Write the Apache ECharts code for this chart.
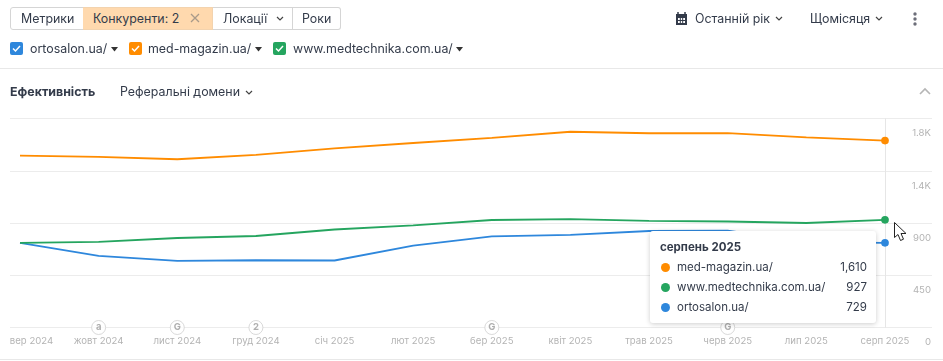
<!DOCTYPE html>
<html>
<head>
<meta charset="utf-8">
<script src="https://cdn.jsdelivr.net/npm/echarts@6/dist/echarts.min.js"></script>
<style>
html,body{margin:0;padding:0;background:#fff;overflow:hidden;font-family:Inter,"Noto Sans",sans-serif;color:#333b4a;}
#page{position:relative;width:943px;height:361px;}
#chart{position:absolute;left:0;top:0;width:943px;height:361px;}
.t{position:absolute;white-space:nowrap;font-size:12.4px;line-height:16px;}
.btn{position:absolute;top:7px;height:21px;border:1px solid #d5d5d5;border-left:none;font-size:12.4px;line-height:21px;box-sizing:content-box;text-align:left;}
.cb{position:absolute;top:42px;width:13px;height:13px;border-radius:2px;}
.cb svg{position:absolute;left:0;top:0;}
.hr{position:absolute;left:0;width:943px;height:1px;background:#e8e8e8;}
svg{position:absolute;overflow:visible;}
</style>
</head>
<body>
<div id="page">
  <div id="chart"></div>

  <div class="btn" style="left:10px;width:72px;border-left:1px solid #d5d5d5;border-radius:3px 0 0 3px;"><span style="margin-left:10px">Метрики</span></div>
  <div class="btn" style="left:83px;width:129px;background:#ffd9ae;border-color:#f3d3ae;"><span style="margin-left:10px">Конкуренти: 2</span></div>
  <svg style="left:190px;top:13px" width="10" height="10"><path d="M1 1L9 9M9 1L1 9" stroke="#a89a8a" stroke-width="1.3"/></svg>
  <div class="btn" style="left:213px;width:79px;"><span style="margin-left:10px">Локації</span></div>
  <svg style="left:276px;top:16px" width="8" height="5"><path d="M1 1L4 4L7 1" stroke="#444" stroke-width="1.2" fill="none"/></svg>
  <div class="btn" style="left:293px;width:47px;border-radius:0 3px 3px 0;"><span style="margin-left:9px">Роки</span></div>

  <div class="cb" style="left:10px;background:#2e87dc"><svg width="13" height="13"><path d="M3 6.5L5.5 9L10 4" stroke="#fff" stroke-width="1.5" fill="none"/></svg></div>
  <div class="t" style="left:30px;top:41px">ortosalon.ua/</div>
  <svg style="left:111px;top:47px" width="8" height="5"><path d="M0 0H7L3.5 4.5Z" fill="#333"/></svg>
  <div class="cb" style="left:129px;background:#ff8c00"><svg width="13" height="13"><path d="M3 6.5L5.5 9L10 4" stroke="#fff" stroke-width="1.5" fill="none"/></svg></div>
  <div class="t" style="left:148px;top:41px">med-magazin.ua/</div>
  <svg style="left:255px;top:47px" width="8" height="5"><path d="M0 0H7L3.5 4.5Z" fill="#333"/></svg>
  <div class="cb" style="left:273px;background:#25a55f"><svg width="13" height="13"><path d="M3 6.5L5.5 9L10 4" stroke="#fff" stroke-width="1.5" fill="none"/></svg></div>
  <div class="t" style="left:293px;top:41px">www.medtechnika.com.ua/</div>
  <svg style="left:456px;top:47px" width="8" height="5"><path d="M0 0H7L3.5 4.5Z" fill="#333"/></svg>

  <svg style="left:675px;top:12px" width="13" height="13"><path d="M1 2H12V13H1Z" fill="#333b4a"/><path d="M3 0V3M10 0V3" stroke="#333b4a" stroke-width="1.5"/><path d="M3 6H10V11H3Z" fill="#fff"/><path d="M3 8.5H10M5.3 6V11M7.7 6V11" stroke="#333b4a" stroke-width="1"/></svg>
  <div class="t" style="left:695px;top:11px">Останній рік</div>
  <svg style="left:775px;top:16px" width="8" height="5"><path d="M1 1L4 4L7 1" stroke="#444" stroke-width="1.2" fill="none"/></svg>
  <div class="t" style="left:810px;top:11px">Щомісяця</div>
  <svg style="left:875px;top:16px" width="8" height="5"><path d="M1 1L4 4L7 1" stroke="#444" stroke-width="1.2" fill="none"/></svg>
  <svg style="left:913px;top:12px" width="4" height="14"><circle cx="2" cy="2" r="1.7" fill="#6c6e79"/><circle cx="2" cy="7" r="1.7" fill="#6c6e79"/><circle cx="2" cy="12" r="1.7" fill="#6c6e79"/></svg>

  <div class="hr" style="top:68px"></div>
  <div class="t" style="left:10px;top:84px;font-weight:700;">Ефективність</div>
  <div class="t" style="left:120px;top:84px">Реферальні домени</div>
  <svg style="left:245px;top:90px" width="8" height="5"><path d="M1 1L4 4L7 1" stroke="#444" stroke-width="1.2" fill="none"/></svg>
  <svg style="left:919px;top:87px" width="12" height="8"><path d="M1 7L6 2L11 7" stroke="#b5b5b5" stroke-width="1.6" fill="none"/></svg>
  <div class="hr" style="top:359px"></div>

  <svg style="left:894px;top:222px;z-index:10000" width="14" height="20"><path d="M0.5 0.5V15.5L4 12.5L6.5 18.5L9.5 17.2L7 11.5H12Z" fill="#fff" stroke="#222" stroke-width="1"/></svg>
</div>

<script>
// 月份
var months = ['вер 2024','жовт 2024','лист 2024','груд 2024','січ 2025','лют 2025','бер 2025','квіт 2025','трав 2025','черв 2025','лип 2025','серп 2025'];
var tooltipTitle = 'серпень 2025';

// 三个网站的数据
var medMagazin = [1481,1469,1449,1486,1542,1589,1634,1686,1673,1674,1637,1610];
var medtechnika = [728,738,771,788,844,879,926,934,919,913,900,927];
var ortosalon = [728,616,573,579,577,706,784,797,831,835,735,729];

// y轴
var yTicks = [0,450,900,1350,1800];
var yTickLabels = ['0','450','900','1.4K','1.8K'];

// 底部的小圆圈标记
var noteIndexes = [1,2,3,6,9];
var noteLabels = ['a','G','2','G','G'];

var orange = '#ff8c00', green = '#25a55f', blue = '#2e87dc';
var lastIndex = months.length - 1;

function lineSeries(name, values, color) {
    return {
        name: name,
        type: 'line',
        xAxisIndex: 0,
        yAxisIndex: 0,
        data: values,
        smooth: false,
        showSymbol: true,
        showAllSymbol: true,
        symbol: 'circle',
        symbolSize: function (v, p) { return p.dataIndex === lastIndex ? 7 : 0; },
        lineStyle: {color: color, width: 1.8},
        itemStyle: {color: color},
        emphasis: {disabled: true},
        z: 3
    };
}

var notes = [];
for (var i = 0; i < noteIndexes.length; i++) {
    notes.push({value: [noteIndexes[i], 0], label: {formatter: noteLabels[i]}});
}

var myChart = echarts.init(document.getElementById('chart'));

var option = {
    animation: false,
    textStyle: {fontFamily: 'Inter'},
    grid: [
        {left: 20, right: 58, top: 118.5, height: 209, containLabel: false},
        {left: 10, right: 11, top: 118.5, height: 209, containLabel: false}
    ],
    xAxis: [
        {
            type: 'category',
            gridIndex: 0,
            data: months,
            boundaryGap: false,
            axisLine: {show: false},
            axisTick: {show: false},
            axisLabel: {
                interval: 0,
                hideOverlap: false,
                color: '#b4b4b4',
                fontSize: 9.6,
                margin: 9,
                formatter: function (v, idx) { return idx === 0 ? '{first|' + v + '}' : v; },
                rich: {first: {color: '#b4b4b4', fontSize: 9.6, padding: [0, 0, 0, 23]}}
            }
        },
        {type: 'value', gridIndex: 1, min: 0, max: 1, show: false}
    ],
    yAxis: [
        {type: 'value', gridIndex: 0, min: 0, max: 1800, interval: 450, show: false},
        {
            type: 'value',
            gridIndex: 1,
            position: 'right',
            min: 0,
            max: 1800,
            interval: 450,
            axisLine: {show: false},
            axisTick: {show: false},
            splitLine: {lineStyle: {color: '#ececec', width: 1}},
            axisLabel: {
                inside: true,
                margin: 1,
                color: '#b4b4b4',
                fontSize: 9.6,
                verticalAlign: 'top',
                padding: [10, 0, 0, 0],
                formatter: function (v) { return yTickLabels[yTicks.indexOf(v)]; }
            }
        }
    ],
    tooltip: {
        trigger: 'axis',
        alwaysShowContent: true,
        transitionDuration: 0,
        showContent: true,
        position: [650, 231],
        padding: 0,
        borderWidth: 0,
        backgroundColor: '#fff',
        extraCssText: 'width:226px;height:92px;border-radius:3px;box-shadow:0 1px 5px rgba(0,0,0,.2);box-sizing:border-box;',
        axisPointer: {type: 'line', z: 1, lineStyle: {color: '#e6e6e6', width: 1, type: 'solid'}, label: {show: false}},
        formatter: function () {
            var rows = [['med-magazin.ua/', medMagazin, orange], ['www.medtechnika.com.ua/', medtechnika, green], ['ortosalon.ua/', ortosalon, blue]];
            var html = '<div style="font:700 11.5px/16px Inter;color:#333b4a;position:absolute;left:10px;top:8px">' + tooltipTitle + '</div>';
            for (var r = 0; r < rows.length; r++) {
                var val = rows[r][1][lastIndex];
                var top = 28 + r * 20;
                html += '<div style="position:absolute;left:11px;top:' + (top + 4) + 'px;width:9px;height:9px;border-radius:50%;background:' + rows[r][2] + '"></div>';
                html += '<div style="font:11.5px/16px Inter;color:#333b4a;position:absolute;left:27px;top:' + top + 'px">' + rows[r][0] + '</div>';
                html += '<div style="font:11.5px/16px Inter;color:#333b4a;position:absolute;right:9px;top:' + top + 'px">' + echarts.format.addCommas(val) + '</div>';
            }
            return html;
        }
    },
    series: [
        lineSeries('ortosalon.ua/', ortosalon, blue),
        lineSeries('www.medtechnika.com.ua/', medtechnika, green),
        lineSeries('med-magazin.ua/', medMagazin, orange),
        {
            name: 'notes',
            type: 'scatter',
            xAxisIndex: 0,
            yAxisIndex: 0,
            data: notes,
            clip: false,
            symbol: 'circle',
            symbolSize: 14,
            silent: true,
            tooltip: {show: false},
            itemStyle: {color: '#fff', borderColor: '#cfcfcf', borderWidth: 1},
            label: {show: true, position: 'inside', color: '#9a9a9a', fontSize: 9.5, fontWeight: 700},
            z: 4
        }
    ]
};

myChart.setOption(option);
myChart.dispatchAction({type: 'showTip', seriesIndex: 0, dataIndex: lastIndex});
</script>
</body>
</html>
